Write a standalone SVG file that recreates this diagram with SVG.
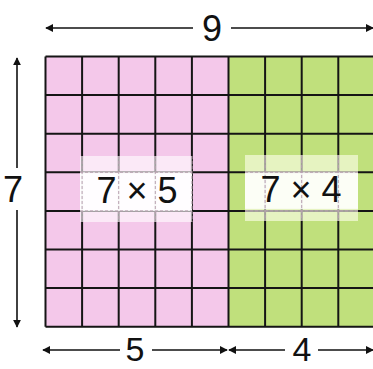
<svg xmlns="http://www.w3.org/2000/svg" width="373" height="369" viewBox="0 0 373 369">
<style>
.num{font-family:"Liberation Sans",Arial,sans-serif;font-size:36px;fill:#111;text-anchor:middle}
.bot{font-size:34px}
.dim{stroke:#111;stroke-width:1.6;fill:none}
.grid{stroke:#151515;stroke-width:2;fill:none}
.dash{stroke:#b8a0b0;stroke-width:1;stroke-dasharray:3 2;fill:none}
</style>
<defs>
<marker id="ah" viewBox="0 0 10 10" refX="9" refY="5" markerWidth="8" markerHeight="8" markerUnits="userSpaceOnUse" orient="auto-start-reverse">
<path d="M0,0 L10,5 L0,10 z" fill="#111"/>
</marker>
</defs>
<rect width="373" height="369" fill="#fff"/>
<g id="pink-area"><rect x="45.5" y="56.5" width="183" height="270.2" fill="#f4c8ea"/></g>
<g id="green-area"><rect x="228.5" y="56.5" width="146.4" height="270.2" fill="#c0e07c"/></g>
<g id="grid">
<path class="grid" d="M45.5,56.5V326.7M82.1,56.5V326.7M118.7,56.5V326.7M155.3,56.5V326.7M191.9,56.5V326.7M228.5,56.5V326.7M265.1,56.5V326.7M301.7,56.5V326.7M338.3,56.5V326.7M374.9,56.5V326.7"/>
<path class="grid" d="M45.5,56.5H375M45.5,95.1H375M45.5,133.7H375M45.5,172.3H375M45.5,210.9H375M45.5,249.5H375M45.5,288.1H375M45.5,326.7H375"/>
</g>
<g id="label-7x5">
<rect x="80" y="156" width="112" height="66" fill="#fff" fill-opacity="0.6"/>
<rect x="80" y="172.3" width="112" height="38.6" fill="#fff" fill-opacity="0.9"/>
<path class="dash" d="M82.1,156V222M118.7,156V222M155.3,156V222M191.9,156V222M80,172.3H192M80,210.9H192"/>
<text class="num" x="137" y="203">7 × 5</text>
</g>
<g id="label-7x4">
<rect x="245" y="155" width="113" height="66" fill="#fffff0" fill-opacity="0.6"/>
<rect x="245" y="172.3" width="113" height="36.6" fill="#fff" fill-opacity="0.85"/>
<path class="dash" d="M265.1,155V221M301.7,155V221M338.3,155V221M245,172.3H358M245,210.9H358"/>
<text class="num" x="301" y="202">7 × 4</text>
</g>
<g id="connectors">
<line class="dim" x1="46" y1="28" x2="193" y2="28" marker-start="url(#ah)"/>
<line class="dim" x1="231" y1="28" x2="373" y2="28" marker-end="url(#ah)"/>
<line class="dim" x1="17" y1="58" x2="17" y2="168" marker-start="url(#ah)"/>
<line class="dim" x1="17" y1="210" x2="17" y2="327" marker-end="url(#ah)"/>
<line class="dim" x1="43" y1="350" x2="120" y2="350" marker-start="url(#ah)"/>
<line class="dim" x1="152" y1="350" x2="227" y2="350" marker-end="url(#ah)"/>
<line class="dim" x1="229" y1="350" x2="285" y2="350" marker-start="url(#ah)"/>
<line class="dim" x1="318" y1="350" x2="373" y2="350" marker-end="url(#ah)"/>
</g>
<g id="dim-labels">
<text class="num" x="212" y="41">9</text>
<text class="num" x="13" y="202">7</text>
<text class="num bot" x="135" y="361">5</text>
<text class="num bot" x="302" y="361">4</text>
</g>
</svg>
